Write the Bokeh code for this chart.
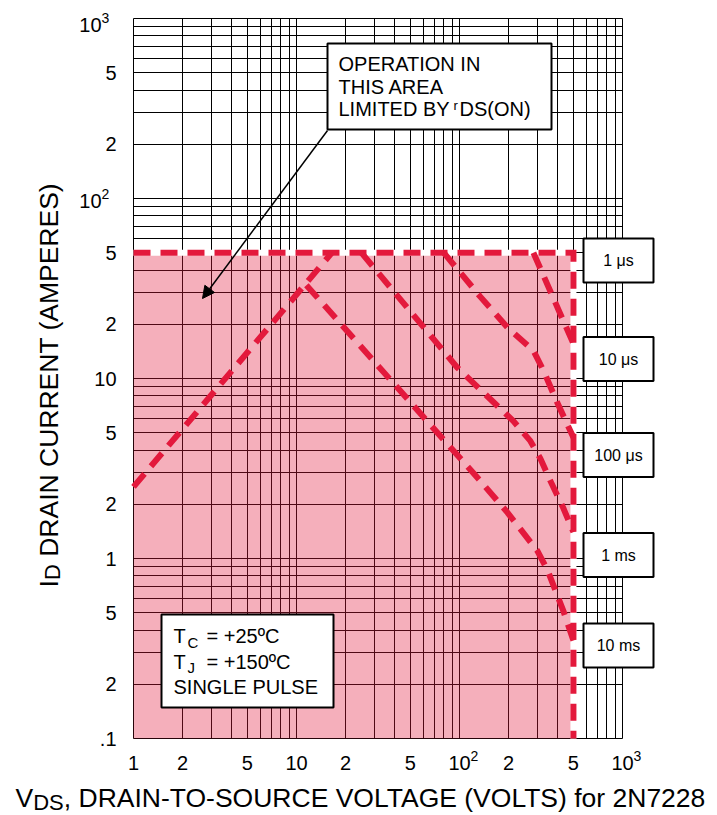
import math
from bokeh.plotting import figure
from bokeh.models import Range1d, FixedTicker, Label, BoxAnnotation, Arrow, NormalHead
from bokeh.core.properties import value
from bokeh.embed import file_html
from bokeh.resources import INLINE

# ---------------- data ----------------
V_MIN, V_MAX_AXIS = 1, 1000
I_MIN, I_MAX_AXIS = 0.1, 1000
V_MAX = 500      # VDS max (V)
I_MAX = 50       # ID max (A)

# boundary (1 us): top at I_MAX, right side at V_MAX
BOUND_V = [1, 500, 500]
BOUND_I = [50, 50, 0.1]

# rDS(on) limit line
RDS_V = [1, 16.5]
RDS_I = [2.5, 50]

SOA_10US_V = [284, 500]
SOA_10US_I = [50, 15.6]

SOA_100US_V = [80, 134, 197, 284, 327, 399, 500]
SOA_100US_I = [50, 28.5, 19.2, 14.3, 11.1, 7.3, 4.7]

SOA_1MS_V = [25, 97, 214, 272, 313, 361, 434, 500]
SOA_1MS_I = [50, 11.5, 5.8, 4.5, 3.6, 2.7, 1.9, 1.4]

SOA_10MS_V = [11.5, 134, 197, 301, 347, 434, 500]
SOA_10MS_I = [33, 2.7, 1.8, 1.1, 0.86, 0.51, 0.35]

PULSE_LABELS = ["1 μs", "10 μs", "100 μs", "1 ms", "10 ms"]

X_TICKS = [1, 2, 5, 10, 20, 50, 100, 200, 500, 1000]
X_TICK_LABELS = ["1", "2", "5", "10", "2", "5", "10²", "2", "5", "10³"]
Y_TICKS = [0.1, 0.2, 0.5, 1, 2, 5, 10, 20, 50, 100, 200, 500, 1000]
Y_TICK_LABELS = [".1", "2", "5", "1", "2", "5", "10", "2", "5", "10²", "2", "5", "10³"]

GRID_X = [k * 10 ** e for e in range(0, 3) for k in range(1, 10)] + [1000]
GRID_Y = [k * 10 ** e for e in range(-1, 3) for k in range(1, 10)] + [1000]

# ---------------- layout helpers (page pixel -> data) ----------------
FX0, FX1, FY0, FY1 = 133, 622, 18, 738
W_PX, H_PX = 717, 815


def dx(px):
    return 10 ** (3 * (px - FX0) / (FX1 - FX0))


def dy(py):
    return 10 ** (3 - 4 * (py - FY0) / (FY1 - FY0))


FONT = "Liberation Sans"
RED = "#E3193C"
SUPS = {"²": "2", "³": "3"}

p = figure(width=W_PX, height=H_PX, x_axis_type="log", y_axis_type="log",
           x_range=Range1d(dx(0), dx(W_PX)), y_range=Range1d(dy(H_PX), dy(0)),
           output_backend="svg", toolbar_location=None,
           min_border_left=0, min_border_right=0, min_border_top=0, min_border_bottom=0)
p.title.visible = False
p.xaxis.visible = False
p.yaxis.visible = False
p.background_fill_color = "white"
p.border_fill_color = "white"
p.outline_line_color = None

# ---------------- grid ----------------
p.xgrid.ticker = FixedTicker(ticks=GRID_X)
p.ygrid.ticker = FixedTicker(ticks=GRID_Y)
grid_ok = True
try:
    p.xgrid.cross_bounds = (I_MIN, I_MAX_AXIS)
    p.ygrid.cross_bounds = (V_MIN, V_MAX_AXIS)
except Exception:
    grid_ok = False
if grid_ok:
    for g in (p.xgrid, p.ygrid):
        g.grid_line_color = "black"
        g.grid_line_alpha = 1
        g.grid_line_width = 1
else:
    p.xgrid.visible = False
    p.ygrid.visible = False
    p.segment(x0=GRID_X, y0=[I_MIN] * len(GRID_X), x1=GRID_X, y1=[I_MAX_AXIS] * len(GRID_X),
              line_color="black", line_width=1)
    p.segment(x0=[V_MIN] * len(GRID_Y), y0=GRID_Y, x1=[V_MAX_AXIS] * len(GRID_Y), y1=GRID_Y,
              line_color="black", line_width=1)

# ---------------- SOA region and curves ----------------
p.quad(left=[V_MIN], right=[V_MAX], bottom=[I_MIN], top=[I_MAX],
       fill_color=RED, fill_alpha=0.35, line_color=None)
p.line(BOUND_V, BOUND_I, line_color="white", line_width=6)

dash = dict(line_color=RED, line_width=6, line_dash="17 10", line_join="miter")
p.line(BOUND_V, BOUND_I, **dash)
p.line(RDS_V, RDS_I, **dash)
p.line(SOA_10US_V, SOA_10US_I, **dash)
p.line(SOA_100US_V, SOA_100US_I, **dash)
p.line(SOA_1MS_V, SOA_1MS_I, **dash)
p.line(SOA_10MS_V, SOA_10MS_I, **dash)


def txt(x, y, text, size=20, angle=0.0, align="left", **kw):
    p.text(x=x, y=y, text=text, text_font=value(FONT), text_font_size=value(f"{size}px"),
           text_color="black", angle=angle, text_align=align, text_baseline="middle", **kw)


# ---------------- tick labels ----------------
xb = [l.rstrip("²³") for l in X_TICK_LABELS]
txt(X_TICKS, [dy(762)] * len(X_TICKS), xb, align="center")
xs = [(t, SUPS[l[-1]]) for t, l in zip(X_TICKS, X_TICK_LABELS) if l[-1] in SUPS]
txt([t for t, _ in xs], [dy(755)] * len(xs), [s for _, s in xs], size=14, x_offset=11)

yp = [(t, l) for t, l in zip(Y_TICKS, Y_TICK_LABELS) if l[-1] not in SUPS]
txt([dx(116)] * len(yp), [t for t, _ in yp], [l for _, l in yp], align="right")
ysup = [(t, l) for t, l in zip(Y_TICKS, Y_TICK_LABELS) if l[-1] in SUPS]
yoff = [6 if t == I_MAX_AXIS else 2 for t, _ in ysup]
txt([dx(101)] * len(ysup), [t for t, _ in ysup], [l.rstrip("²³") for _, l in ysup],
    align="right", y_offset=yoff)
txt([dx(101)] * len(ysup), [t for t, _ in ysup], [SUPS[l[-1]] for _, l in ysup], size=14,
    y_offset=[o - 7 for o in yoff])


def lab(x, y, text, size=20, align="left"):
    p.add_layout(Label(x=x, y=y, text=text, text_font=FONT, text_font_size=f"{size}px",
                       text_color="black", text_align=align, text_baseline="middle"))


def box(l, r, t, b):
    p.add_layout(BoxAnnotation(left=l, right=r, top=t, bottom=b,
                               fill_color="white", fill_alpha=1,
                               line_color="black", line_alpha=1, line_width=2))


# ---------------- rDS(on) annotation ----------------
box(dx(327), dx(551), dy(43), dy(129))
lab(dx(338), dy(63), "OPERATION IN")
lab(dx(338), dy(86.7), "THIS AREA")
lab(dx(338), dy(108.5), "LIMITED BY")
lab(dx(453), dy(105), "r", size=13)
lab(dx(459), dy(108.5), "DS(ON)")
p.add_layout(Arrow(end=NormalHead(size=12, fill_color="black", line_color="black"),
                   x_start=dx(327), y_start=dy(130), x_end=dx(202), y_end=dy(298),
                   line_color="black", line_width=1.5))

# ---------------- conditions box ----------------
box(dx(161), dx(333), dy(614), dy(707))
lab(dx(173), dy(635.5), "T")
lab(dx(187), dy(641.5), "C", size=15)
lab(dx(206), dy(635.5), "= +25ºC")
lab(dx(173), dy(661), "T")
lab(dx(187), dy(666.5), "J", size=15)
lab(dx(206), dy(661), "= +150ºC")
lab(dx(173), dy(686.5), "SINGLE PULSE")

# ---------------- pulse-width boxes ----------------
BOX_Y_PX = [260, 358.5, 454.5, 554.5, 645]
for text, ypx in zip(PULSE_LABELS, BOX_Y_PX):
    box(dx(583), dx(653), dy(ypx - 22), dy(ypx + 22))
    lab(dx(618), dy(ypx), text, size=16, align="center")

# ---------------- axis titles ----------------
txt([dx(48.5)], [dy(587)], ["I"], size=26.5, angle=math.pi / 2)
txt([dx(52)], [dy(579.6)], ["D"], size=22, angle=math.pi / 2)
txt([dx(48.5)], [dy(556.3)], ["DRAIN CURRENT (AMPERES)"], size=26.5, angle=math.pi / 2)

txt([dx(15)], [dy(797.5)], ["V"], size=26.5)
txt([dx(32.7)], [dy(801.5)], ["DS"], size=22)
txt([dx(63.3)], [dy(797.5)], [", DRAIN-TO-SOURCE VOLTAGE (VOLTS) for 2N7228"], size=26.5)

open("out.html", "w").write(file_html(p, INLINE))
